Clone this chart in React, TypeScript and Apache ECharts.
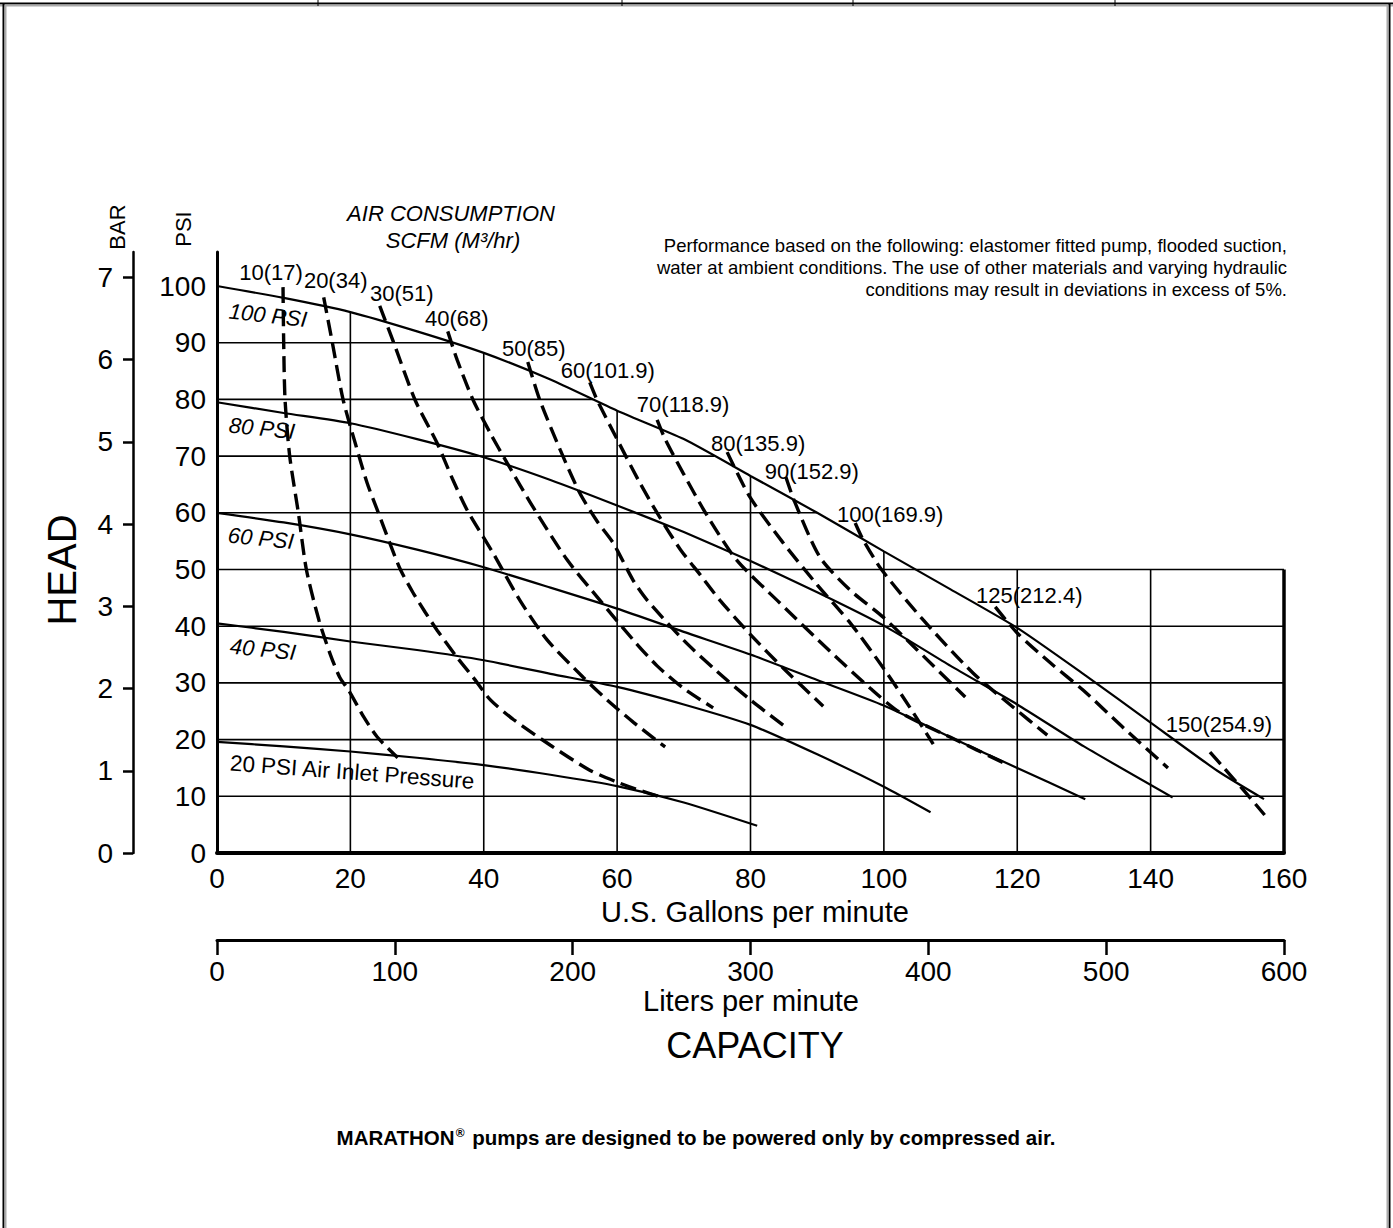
import React, { useEffect, useRef } from "react";
import * as echarts from "echarts";

// ---------- data ----------
const gpmTicks = [0, 20, 40, 60, 80, 100, 120, 140, 160];
const psiTicks = [0, 10, 20, 30, 40, 50, 60, 70, 80, 90, 100];
const barTicks = [0, 1, 2, 3, 4, 5, 6, 7];
const lpmTicks = [0, 100, 200, 300, 400, 500, 600];

const psi100 = [[0, 100], [10, 97.9], [20, 95.4], [30, 92], [40, 88.2], [50, 83.5], [60, 78], [70, 73], [80, 66.5], [90, 60], [100, 53.2], [110, 46.5], [120, 39.7], [130, 31.5], [140, 23], [150, 14.5], [157, 9.5]];
const psi80 = [[0, 79.5], [10, 77.6], [20, 75.8], [30, 73], [40, 69.8], [50, 65.8], [60, 61.3], [70, 56.6], [80, 51.5], [90, 46], [100, 40.1], [110, 33], [120, 26.2], [130, 18.8], [143.3, 9.8]];
const psi60 = [[0, 60], [10, 58.3], [20, 56.2], [30, 53.5], [40, 50.4], [50, 46.8], [60, 43.1], [70, 39], [80, 35], [90, 30.5], [100, 26], [110, 20.4], [120, 15], [130.2, 9.5]];
const psi40 = [[0, 40.5], [10, 39], [20, 37.3], [30, 35.8], [40, 34], [50, 31.6], [60, 29.3], [70, 26.2], [80, 22.6], [90, 17.4], [100, 11.7], [107, 7.2]];
const psi20 = [[0, 19.6], [10, 18.8], [20, 17.9], [30, 16.8], [40, 15.5], [50, 13.8], [60, 11.8], [70, 8.9], [81, 4.8]];

const airNames = ["10(17)", "20(34)", "30(51)", "40(68)", "50(85)", "60(101.9)", "70(118.9)", "80(135.9)", "90(152.9)", "100(169.9)", "125(212.4)", "150(254.9)"];
const air10 = [[9.9, 99.8], [10, 90], [10.2, 80], [10.9, 70], [12.2, 60], [13.4, 50], [15.3, 41], [17, 35], [18.4, 31], [19.8, 28.6], [22, 24], [24, 20.5], [27.1, 16.8]];
const air20 = [[16, 98], [17.3, 90], [18.9, 80], [20.8, 72], [22.5, 65.3], [24.2, 60], [25.9, 54.7], [27.5, 50], [29.4, 45.9], [31.2, 42.5], [33, 39.3], [36, 34.5], [38.4, 31], [41, 27], [44.5, 23.5], [50, 19], [55.9, 14.6], [60, 12.5], [63, 11.2], [66.4, 9.9]];
const air30 = [[24.4, 96.5], [26.5, 90], [29.7, 79.9], [33, 72.3], [35.3, 66], [37.5, 60.5], [41.4, 52.9], [45.4, 44.6], [49.5, 37.6], [54.9, 31], [58.5, 27], [62.5, 23], [67.2, 18.7]];
const air40 = [[34.6, 92], [36, 87], [38.4, 79.9], [41, 74], [43.5, 68.8], [47.4, 61], [52.5, 51.7], [57.4, 44.6], [62.4, 37.6], [66, 33], [70, 29], [74.4, 25.6]];
const air50 = [[46.6, 86.6], [48.4, 79.9], [51.5, 71], [54.4, 63.5], [57, 58.5], [59.4, 54.7], [62.4, 48.1], [64.5, 44.6], [70, 37.5], [75, 32], [80, 27], [85.5, 22]];
const air60 = [[55.9, 83], [57, 79.9], [60.2, 72.5], [63.4, 65.3], [66.5, 59], [69.5, 53.5], [72.5, 49], [75.4, 44.6], [80, 38.5], [85, 32.5], [90.9, 25.9]];
const air70 = [[66, 76.4], [67.2, 73], [69.9, 67], [73.5, 59.5], [77.9, 51.7], [84.4, 44.1], [92, 35.5], [98, 29], [102.4, 24.8], [110, 20.4], [118.5, 15.6]];
const air80 = [[76.5, 70.7], [79.9, 62.8], [84.9, 54.7], [90, 47.3], [95, 40.5], [100, 32.5], [104, 25.5], [107.4, 19.2]];
const air90 = [[85.3, 66.3], [86.6, 62], [90.4, 52.2], [94.9, 46.4], [99.9, 41.6], [105, 35.8], [112.2, 27.5]];
const air100 = [[95.7, 58.2], [96.9, 55.2], [99.7, 49.9], [105.9, 41.1], [113.4, 31.7], [119.4, 25.7], [124.5, 20.8]];
const air125 = [[116.7, 43.4], [120, 38.8], [125, 33.5], [129.9, 28.7], [136, 22], [142.6, 15]];
const air150 = [[148.9, 17.8], [151, 15], [154, 11], [157.1, 6.7]];
const airCurves = [air10, air20, air30, air40, air50, air60, air70, air80, air90, air100, air125, air150];

const pressureCurves = [psi100, psi80, psi60, psi40, psi20];

// label offsets (pixels) of the air-consumption labels relative to each curve's first point
const airLabelOffsets = [[-12, -15], [12, -17], [22, -12], [9, -13], [6, -13], [18, -12], [26, -15], [31, -9], [26, -6], [35, -9], [34, -11], [9, -28]];

const FONT = "'Liberation Sans', Arial, Helvetica, sans-serif";
const PSI_PER_BAR = 14.5038;
const Y_MAX = 106;

function yOnCurve(curve: number[][], x: number): number {
  for (let i = 0; i < curve.length - 1; i++) {
    const [x0, y0] = curve[i];
    const [x1, y1] = curve[i + 1];
    if (x >= x0 && x <= x1) return y0 + ((y1 - y0) * (x - x0)) / (x1 - x0);
  }
  return curve[curve.length - 1][1];
}
function xOnCurve(curve: number[][], y: number): number {
  for (let i = 0; i < curve.length - 1; i++) {
    const [x0, y0] = curve[i];
    const [x1, y1] = curve[i + 1];
    if (y <= y0 && y >= y1) return x0 + ((x1 - x0) * (y0 - y)) / (y0 - y1);
  }
  return curve[curve.length - 1][0];
}

function buildOption() {
  const series: any[] = [];
  // grid lines clipped under the 100 PSI curve (full grid below 50 psi)
  gpmTicks.slice(1, -1).forEach((x) => {
    const top = Math.max(yOnCurve(psi100, x), 50);
    series.push({ type: "line", data: [[x, 0], [x, top]], symbol: "none", silent: true, z: 1, lineStyle: { color: "#000", width: 1.6 } });
  });
  psiTicks.slice(1, -1).forEach((y) => {
    const right = y <= 50 ? 160 : xOnCurve(psi100, y);
    series.push({ type: "line", data: [[0, y], [right, y]], symbol: "none", silent: true, z: 1, lineStyle: { color: "#000", width: 1.6 } });
  });
  series.push({ type: "line", data: [[160, 0], [160, 50]], symbol: "none", silent: true, z: 2, lineStyle: { color: "#000", width: 3.5 } });

  pressureCurves.forEach((c) => {
    series.push({ type: "line", data: c, symbol: "none", smooth: 0.2, silent: true, z: 3, lineStyle: { color: "#000", width: 2.2 } });
  });
  airCurves.forEach((c) => {
    series.push({ type: "line", data: c, symbol: "none", smooth: 0.25, silent: true, z: 4, lineStyle: { color: "#000", width: 3.4, type: [16, 7] } });
  });
  series.push({
    type: "scatter",
    silent: true,
    z: 5,
    symbolSize: 0.1,
    itemStyle: { color: "#000", opacity: 1 },
    data: airCurves.map((c, i) => ({
      value: c[0],
      label: {
        show: true,
        formatter: airNames[i],
        position: "inside",
        offset: airLabelOffsets[i],
        align: "center",
        verticalAlign: "middle",
        fontFamily: FONT,
        fontSize: 22,
        color: "#000",
        opacity: 1,
        textBorderWidth: 0,
      },
    })),
  });

  const txt = (text: string, x: number, y: number, size: number, extra: any = {}) => ({
    type: "text",
    x,
    y,
    rotation: extra.rotation || 0,
    style: {
      text,
      fontFamily: FONT,
      fontSize: size,
      fill: "#000",
      align: extra.align || "center",
      verticalAlign: "middle",
      fontStyle: extra.italic ? "italic" : "normal",
      fontWeight: extra.bold ? "bold" : "normal",
    },
  });

  const graphic: any[] = [
    // page frame
    { type: "line", shape: { x1: 0, y1: 3.5, x2: 1393, y2: 3.5 }, style: { stroke: "#000", lineWidth: 2 } },
    { type: "line", shape: { x1: 0, y1: 5.5, x2: 1393, y2: 5.5 }, style: { stroke: "#aaa", lineWidth: 2 } },
    { type: "line", shape: { x1: 3.5, y1: 3, x2: 3.5, y2: 1228 }, style: { stroke: "#000", lineWidth: 2 } },
    { type: "line", shape: { x1: 5.5, y1: 5, x2: 5.5, y2: 1228 }, style: { stroke: "#aaa", lineWidth: 2 } },
    { type: "line", shape: { x1: 1389.5, y1: 3, x2: 1389.5, y2: 1228 }, style: { stroke: "#000", lineWidth: 2 } },
    { type: "line", shape: { x1: 1387.5, y1: 5, x2: 1387.5, y2: 1228 }, style: { stroke: "#aaa", lineWidth: 2 } },
    ...[318, 622, 853, 1115].map((x) => ({ type: "line", shape: { x1: x, y1: 0, x2: x, y2: 6 }, style: { stroke: "#000", lineWidth: 1 } })),
    txt("HEAD", 62, 570, 40, { rotation: Math.PI / 2 }),
    txt("BAR", 117, 227, 22, { rotation: Math.PI / 2 }),
    txt("PSI", 183, 229, 22, { rotation: Math.PI / 2 }),
    txt("AIR CONSUMPTION", 451, 213, 22, { italic: true }),
    txt("SCFM (M³/hr)", 453, 240, 22, { italic: true }),
    txt("Performance based on the following: elastomer fitted pump, flooded suction,", 1287, 245, 18.5, { align: "right" }),
    txt("water at ambient conditions. The use of other materials and varying hydraulic", 1287, 267, 18.5, { align: "right" }),
    txt("conditions may result in deviations in excess of 5%.", 1287, 289, 18.5, { align: "right" }),
    txt("100 PSI", 229, 311, 22, { italic: true, align: "left", rotation: -0.11 }),
    txt("80 PSI", 229, 425, 22, { italic: true, align: "left", rotation: -0.1 }),
    txt("60 PSI", 228, 535, 22, { italic: true, align: "left", rotation: -0.1 }),
    txt("40 PSI", 230, 646, 22, { italic: true, align: "left", rotation: -0.1 }),
    txt("20 PSI Air Inlet Pressure", 230, 763, 22.5, { align: "left", rotation: -0.075 }),
    txt("U.S. Gallons per minute", 755, 912, 29),
    txt("Liters per minute", 751, 1001, 29),
    txt("CAPACITY", 755, 1045, 36),
    {
      type: "text",
      x: 696,
      y: 1137,
      style: {
        text: "{b|MARATHON}{s|®}{b| pumps are designed to be powered only by compressed air.}",
        align: "center",
        verticalAlign: "middle",
        fill: "#000",
        rich: {
          b: { fontFamily: FONT, fontSize: 20.5, fontWeight: "bold", fill: "#000" },
          s: { fontFamily: FONT, fontSize: 12, fontWeight: "bold", fill: "#000", verticalAlign: "top", padding: [0, 2, 0, 1] },
        },
      },
    },
  ];

  return {
    animation: false,
    backgroundColor: "#fff",
    grid: { left: 217, top: 853 - Y_MAX * 5.67, width: 1067, height: Y_MAX * 5.67, containLabel: false },
    xAxis: [
      {
        type: "value",
        min: 0,
        max: 160,
        interval: 20,
        axisLine: { show: true, lineStyle: { color: "#000", width: 4 } },
        axisTick: { show: false },
        splitLine: { show: false },
        axisLabel: { color: "#000", fontSize: 28, fontFamily: FONT, margin: 11, customValues: gpmTicks },
      },
      {
        type: "value",
        position: "bottom",
        offset: 87,
        min: 0,
        max: 600,
        interval: 100,
        axisLine: { show: true, onZero: false, lineStyle: { color: "#000", width: 3 } },
        axisTick: { show: true, length: 15, lineStyle: { color: "#000", width: 2.5 }, customValues: lpmTicks },
        splitLine: { show: false },
        axisLabel: { color: "#000", fontSize: 28, fontFamily: FONT, margin: 17, lineHeight: 28, customValues: lpmTicks },
      },
    ],
    yAxis: [
      {
        type: "value",
        min: 0,
        max: Y_MAX,
        interval: 10,
        axisLine: { show: true, lineStyle: { color: "#000", width: 3 } },
        axisTick: { show: false },
        splitLine: { show: false },
        axisLabel: { color: "#000", fontSize: 28, fontFamily: FONT, margin: 11, customValues: psiTicks },
      },
      {
        type: "value",
        position: "left",
        offset: 84,
        min: 0,
        max: Y_MAX / PSI_PER_BAR,
        interval: 1,
        axisLine: { show: true, onZero: false, lineStyle: { color: "#000", width: 2.5 } },
        axisTick: { show: true, length: 10, lineStyle: { color: "#000", width: 2.5 }, customValues: barTicks },
        splitLine: { show: false },
        axisLabel: { color: "#000", fontSize: 28, fontFamily: FONT, margin: 20, customValues: barTicks },
      },
    ],
    series,
    graphic,
  };
}

export default function App() {
  const ref = useRef<HTMLDivElement>(null);
  useEffect(() => {
    if (!ref.current) return;
    const chart = echarts.init(ref.current, null, { renderer: "svg" });
    chart.setOption(buildOption() as any);
    return () => chart.dispose();
  }, []);
  return (
    <div
      ref={ref}
      style={{ position: "absolute", left: 0, top: 0, width: 1393, height: 1228, background: "#fff" }}
    />
  );
}
